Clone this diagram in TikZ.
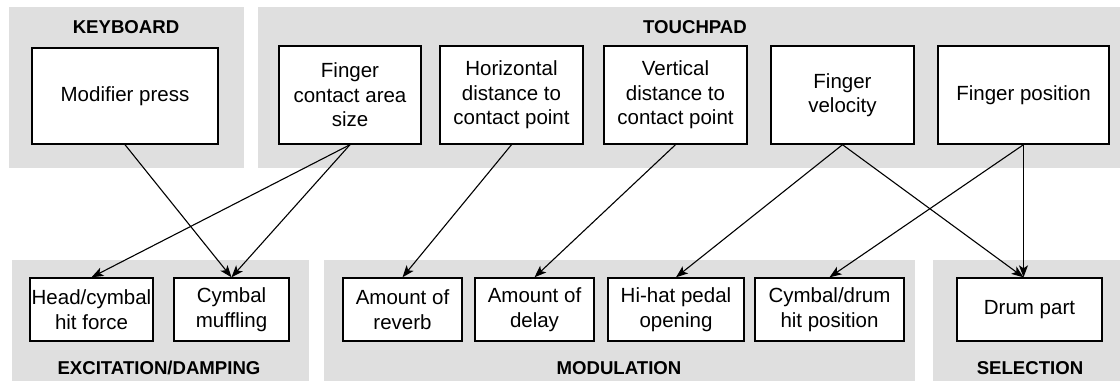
\documentclass[tikz,border=0pt]{standalone}
\usepackage{fontspec}
\setmainfont{Liberation Sans}
\usetikzlibrary{arrows.meta}
\definecolor{PanelGray}{HTML}{DFDFDF}

\begin{document}
\begin{tikzpicture}[x=1pt,y=-1pt,
    panel/.style={fill=PanelGray},
    group/.style={font=\fontsize{18.6}{22}\selectfont\bfseries,inner sep=0pt},
    box/.style={draw,line width=1.4pt,fill=white,align=center,inner sep=0pt,
      font=\fontsize{20.5}{24.5}\selectfont},
    topbox/.style={box,minimum width=143pt,minimum height=98pt},
    lowbox/.style={box,minimum height=63pt},
    link/.style={line width=1.1pt,-{Stealth[length=12pt,width=9pt,inset=3pt]}}]
  \useasboundingbox (0,0) rectangle (1120,381);
  % group panels
  \fill[panel] (9,7) rectangle (244,168);
  \fill[panel] (258,7) rectangle (1120,168);
  \fill[panel] (12,260) rectangle (309,381);
  \fill[panel] (324,260) rectangle (915,381);
  \fill[panel] (933,260) rectangle (1120,381);
  \node[group] (keyboard) at (126,27) {KEYBOARD};
  \node[group] (touchpad) at (695,27) {TOUCHPAD};
  \node[group] (excitation) at (159,368) {EXCITATION/DAMPING};
  \node[group] (modulation) at (619,368) {MODULATION};
  \node[group] (selection) at (1030,368) {SELECTION};
  % inputs
  \node[topbox,minimum width=186pt,minimum height=96pt] (modifier) at (125,96) {Modifier press};
  \node[topbox,minimum width=142pt] (area) at (350,95) {Finger\\contact area\\size};
  \node[topbox] (hdist) at (511.5,95) {Horizontal\\distance to\\contact point};
  \node[topbox] (vdist) at (675.5,95) {Vertical\\distance to\\contact point};
  \node[topbox] (velocity) at (842.5,95) {Finger\\velocity};
  \node[topbox,minimum width=171pt] (position) at (1023.5,95) {Finger position};
  % sound parameters
  \node[lowbox,minimum width=123pt] (force) at (91.5,309.5) {Head/cymbal\\hit force};
  \node[lowbox,minimum width=115pt] (muffling) at (231.5,309.5) {Cymbal\\muffling};
  \node[lowbox,minimum width=119pt] (reverb) at (402.5,309.5) {Amount of\\reverb};
  \node[lowbox,minimum width=119pt] (delay) at (534.5,309.5) {Amount of\\delay};
  \node[lowbox,minimum width=136pt] (hihat) at (676,309.5) {Hi-hat pedal\\opening};
  \node[lowbox,minimum width=149pt] (hitpos) at (829.5,309.5) {Cymbal/drum\\hit position};
  \node[lowbox,minimum width=145pt] (drum) at (1029.5,309.5) {Drum part};
  % mappings
  \draw[link] (modifier.south) -- (muffling.north);
  \draw[link] (area.south) -- (force.north);
  \draw[link] (area.south) -- (muffling.north);
  \draw[link] (hdist.south) -- (reverb.north);
  \draw[link] (vdist.south) -- (delay.north);
  \draw[link] (velocity.south) -- (hihat.north);
  \draw[link] (velocity.south) -- (position.south |- drum.north);
  \draw[link] (position.south) -- (hitpos.north);
  \draw[link] (position.south) -- (position.south |- drum.north);
\end{tikzpicture}
\end{document}
